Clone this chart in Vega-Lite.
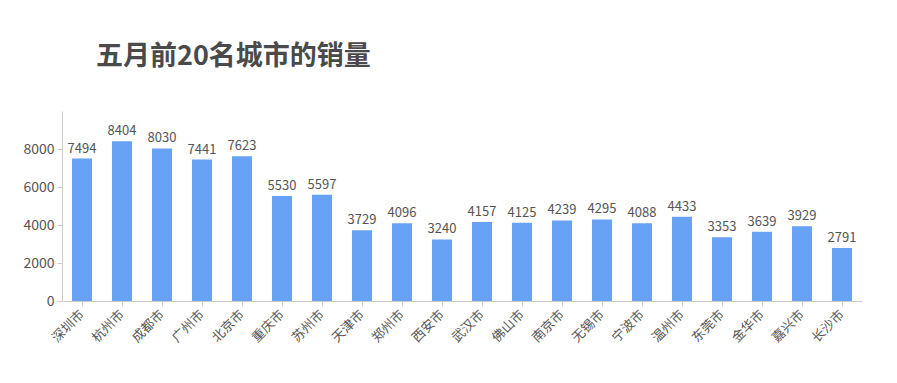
{
  "$schema": "https://vega.github.io/schema/vega-lite/v6.json",
  "autosize": {"type": "none"},
  "padding": {"left": 62, "top": 111, "right": 35, "bottom": 82},
  "width": 800,
  "height": 190,
  "background": "white",
  "title": {
    "text": "五月前20名城市的销量",
    "anchor": "start",
    "frame": "group",
    "dx": 34,
    "offset": 40,
    "font": "Noto Sans CJK SC",
    "fontSize": 27,
    "fontWeight": "bold",
    "color": "#4a4a4a"
  },
  "config": {
    "view": {"stroke": null},
    "font": "Noto Sans CJK SC"
  },
  "data": {
    "values": [
      {"city": "深圳市", "sales": 7494},
      {"city": "杭州市", "sales": 8404},
      {"city": "成都市", "sales": 8030},
      {"city": "广州市", "sales": 7441},
      {"city": "北京市", "sales": 7623},
      {"city": "重庆市", "sales": 5530},
      {"city": "苏州市", "sales": 5597},
      {"city": "天津市", "sales": 3729},
      {"city": "郑州市", "sales": 4096},
      {"city": "西安市", "sales": 3240},
      {"city": "武汉市", "sales": 4157},
      {"city": "佛山市", "sales": 4125},
      {"city": "南京市", "sales": 4239},
      {"city": "无锡市", "sales": 4295},
      {"city": "宁波市", "sales": 4088},
      {"city": "温州市", "sales": 4433},
      {"city": "东莞市", "sales": 3353},
      {"city": "金华市", "sales": 3639},
      {"city": "嘉兴市", "sales": 3929},
      {"city": "长沙市", "sales": 2791}
    ]
  },
  "encoding": {
    "x": {
      "field": "city",
      "type": "nominal",
      "sort": null,
      "scale": {"paddingInner": 0.5, "paddingOuter": 0.25},
      "axis": {
        "title": null,
        "labelAngle": -45,
        "labelAlign": "right",
        "labelBaseline": "middle",
        "labelFontSize": 13,
        "labelColor": "#555555",
        "labelPadding": 6,
        "domainColor": "#cccccc",
        "tickColor": "#cccccc",
        "tickSize": 5
      }
    },
    "y": {
      "field": "sales",
      "type": "quantitative",
      "scale": {"domain": [0, 10000]},
      "axis": {
        "title": null,
        "values": [0, 2000, 4000, 6000, 8000],
        "format": "d",
        "grid": false,
        "labelFontSize": 14,
        "labelColor": "#555555",
        "domainColor": "#cccccc",
        "tickColor": "#cccccc",
        "tickSize": 5,
        "labelPadding": 3
      }
    }
  },
  "layer": [
    {"mark": {"type": "bar", "color": "#67a2f4"}},
    {
      "mark": {"type": "text", "dy": -10, "fontSize": 13, "color": "#555555"},
      "encoding": {"text": {"field": "sales", "type": "quantitative", "format": "d"}}
    }
  ]
}
